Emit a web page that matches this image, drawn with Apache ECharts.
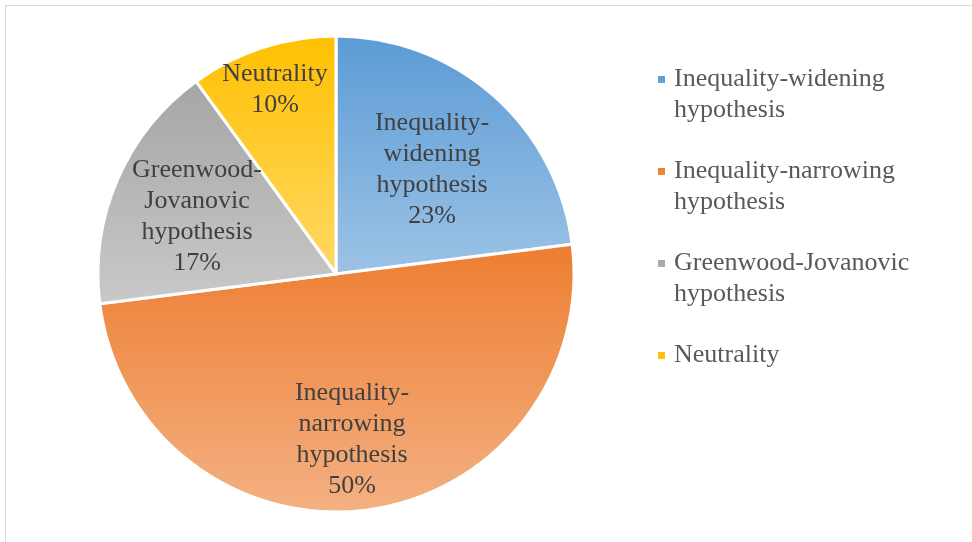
<!DOCTYPE html>
<html><head><meta charset="utf-8">
<script src="https://cdn.jsdelivr.net/npm/echarts@6/dist/echarts.min.js"></script>
<style>html,body{margin:0;padding:0;background:#fff}#c{width:972px;height:542px}</style>
</head><body><div id="c"></div>
<script>
const categories = ['Inequality-widening hypothesis','Inequality-narrowing hypothesis','Greenwood-Jovanovic hypothesis','Neutrality'];
const values = [23, 50, 17, 10];
const sliceLabels = ['Inequality-\nwidening\nhypothesis','Inequality-\nnarrowing\nhypothesis','Greenwood-\nJovanovic\nhypothesis','Neutrality'];
const legendLabels = ['Inequality-widening\nhypothesis','Inequality-narrowing\nhypothesis','Greenwood-Jovanovic\nhypothesis','Neutrality'];

const gradTop = ['#5B9BD5','#ED7D31','#A5A5A5','#FFC000'];
const gradBottom = ['#9DC3E6','#F4B183','#C9C9C9','#FFD966'];
const labelPos = [[432,170],[352,440],[197,217],[275,90]];
const FONT = 'Liberation Serif';
const FS = 26, LH = 31;
const ICON_TOP = 'path://M0,0L9,0L9,9L0,9Z M0,40';

const chart = echarts.init(document.getElementById('c'));
chart.setOption({
  animation:false,
  backgroundColor:'#fff',
  textStyle:{fontFamily:FONT},
  graphic:[{type:'rect',shape:{x:5.5,y:5.5,width:1000,height:1000},style:{fill:'none',stroke:'#D9D9D9',lineWidth:1},silent:true}]
    .concat(categories.map((n,i)=>({
      type:'text', x:labelPos[i][0], y:labelPos[i][1], silent:true, z:100,
      style:{text:sliceLabels[i]+'\n'+values[i]+'%', align:'center', verticalAlign:'middle',
        fontFamily:FONT, fontSize:FS, lineHeight:LH, fill:'#404040'}
    }))),
  legend:{
    orient:'vertical', left:651, top:59, itemWidth:9, itemHeight:40, itemGap:30,
    data: categories.map((n,i)=>({name:n, icon: ICON_TOP,
        textStyle:{fontFamily:FONT,fontSize:FS,color:'#595959',lineHeight:LH,padding:[0,0,0,3]}})),
    formatter: n => { const s = legendLabels[categories.indexOf(n)]; return s.indexOf('\n')>=0 ? s : s + '\n '; },
    textStyle:{fontFamily:FONT,fontSize:FS,color:'#595959',lineHeight:LH}
  },
  series:[{
    type:'pie', center:[336,274], radius:238, startAngle:90, clockwise:true,
    data: categories.map((n,i)=>({
      name:n, value:values[i],
      itemStyle:{color:new echarts.graphic.LinearGradient(0,0,0,1,[{offset:0,color:gradTop[i]},{offset:1,color:gradBottom[i]}])}
    })),
    itemStyle:{borderColor:'#fff',borderWidth:3},
    label:{show:false},
    labelLine:{show:false}, emphasis:{disabled:true}
  }]
});
</script></body></html>
